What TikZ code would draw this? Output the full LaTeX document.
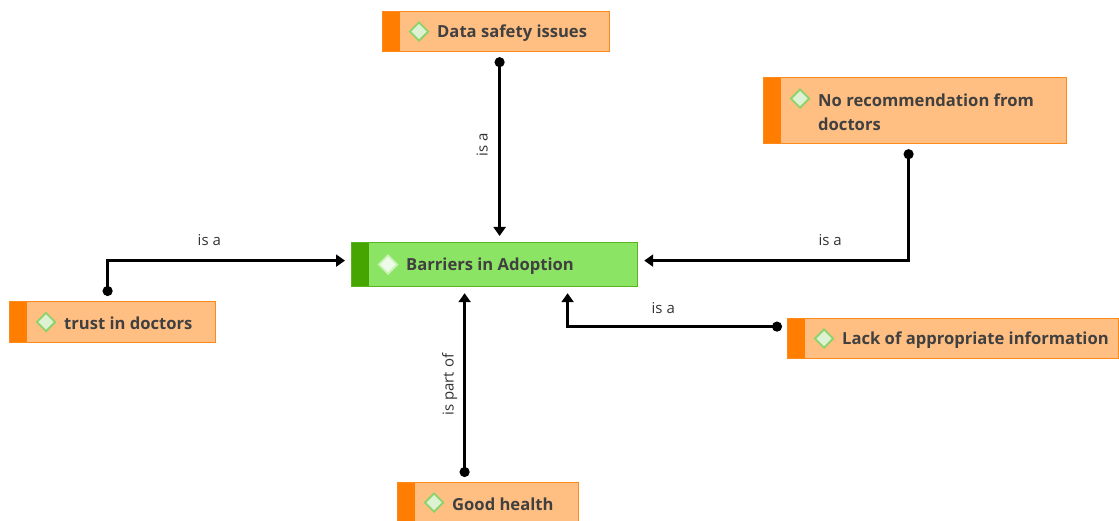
\documentclass[tikz,border=0pt]{standalone}
\usepackage{fontspec}
\setmainfont{Open Sans}
\usetikzlibrary{arrows.meta,shapes.geometric,calc}

\definecolor{orfill}{HTML}{FFBE82}
\definecolor{ordraw}{HTML}{FF8A1C}
\definecolor{orbar}{HTML}{FF7D00}
\definecolor{grfill}{HTML}{8CE464}
\definecolor{grdraw}{HTML}{58B51C}
\definecolor{grbar}{HTML}{46A500}
\definecolor{txt}{HTML}{404040}
\definecolor{icfill}{HTML}{DDF1D3}
\definecolor{icdraw}{HTML}{8DD36B}

\tikzset{
  concept/.style={rectangle, anchor=north west, inner sep=0pt,
    draw=ordraw, fill=orfill, line width=1.2pt,
    path picture={\fill[orbar] (path picture bounding box.north west)
      rectangle ([xshift=17pt]path picture bounding box.south west);}},
  focus/.style={concept, draw=grdraw, fill=grfill,
    path picture={\fill[grbar] (path picture bounding box.north west)
      rectangle ([xshift=17pt]path picture bounding box.south west);}},
  icon/.style={diamond, minimum size=19pt, inner sep=0pt, fill=icfill,
    draw=icdraw, line width=1.8pt},
  title/.style={anchor=west, inner sep=0pt, text=txt, align=left, yshift=-1.5pt,
    font=\fontsize{16.6}{24}\selectfont\bfseries},
  lbl/.style={inner sep=0pt, anchor=base, text=black!80,
    font=\fontsize{15}{18}\selectfont},
  link/.style={line width=2.6pt, line cap=butt,
    {Circle[length=10pt]}-{Triangle[length=9pt,width=12pt]},
    shorten <=5pt, shorten >=6pt},
}

\begin{document}
\begin{tikzpicture}[x=1pt,y=-1pt]
\useasboundingbox (0,0) rectangle (1119,521);

% concept boxes
\node[focus,   minimum width=286pt, minimum height=44pt] (ba) at (351,242) {};
\node[concept, minimum width=227pt, minimum height=40pt] (ds) at (382,11) {};
\node[concept, minimum width=303pt, minimum height=66pt] (nr) at (763,77) {};
\node[concept, minimum width=206pt, minimum height=41pt] (tr) at (9,301) {};
\node[concept, minimum width=331pt, minimum height=40pt] (la) at (787,318) {};
\node[concept, minimum width=181pt, minimum height=40pt] (gh) at (397,482) {};

% icons and titles
\node[icon, fill=white!85!grfill, draw=white!55!grfill] (ba-i) at ([xshift=37pt]ba.west) {};
\node[title] (ba-t) at ([xshift=55pt]ba.west) {Barriers in Adoption};
\node[icon] (ds-i) at ([xshift=37pt]ds.west) {};
\node[title] (ds-t) at ([xshift=55pt]ds.west) {Data safety issues};
\node[icon] (nr-i) at ([xshift=37pt,yshift=12pt]nr.west) {};
\node[title] (nr-t) at ([xshift=55pt]nr.west) {No recommendation from\\doctors};
\node[icon] (tr-i) at ([xshift=37pt]tr.west) {};
\node[title] (tr-t) at ([xshift=55pt]tr.west) {trust in doctors};
\node[icon] (la-i) at ([xshift=37pt]la.west) {};
\node[title] (la-t) at ([xshift=55pt]la.west) {Lack of appropriate information};
\node[icon] (gh-i) at ([xshift=37pt]gh.west) {};
\node[title] (gh-t) at ([xshift=55pt]gh.west) {Good health};

% relations
\draw[link] ([xshift=3.5pt]ds.south) -- ([xshift=5pt]ba.north)
  node[lbl, pos=0.49, rotate=90, yshift=12pt] {is a};
\draw[link] ([xshift=-6.5pt]nr.south) |- ([yshift=4pt]ba.east)
  node[lbl, pos=0.645, yshift=15.5pt] {is a};
\draw[link] ([xshift=-5pt]tr.north) |- ([yshift=4pt]ba.west)
  node[lbl, pos=0.709, yshift=15.5pt] {is a};
\draw[link] ([yshift=12pt]la.west) -| ([xshift=73pt]ba.south)
  node[lbl, pos=0.282, yshift=13.5pt] {is a};
\draw[link] ([xshift=-23.5pt]gh.north) -- ([xshift=-30pt]ba.south)
  node[lbl, midway, rotate=90, yshift=11pt] {is part of};
\end{tikzpicture}
\end{document}
